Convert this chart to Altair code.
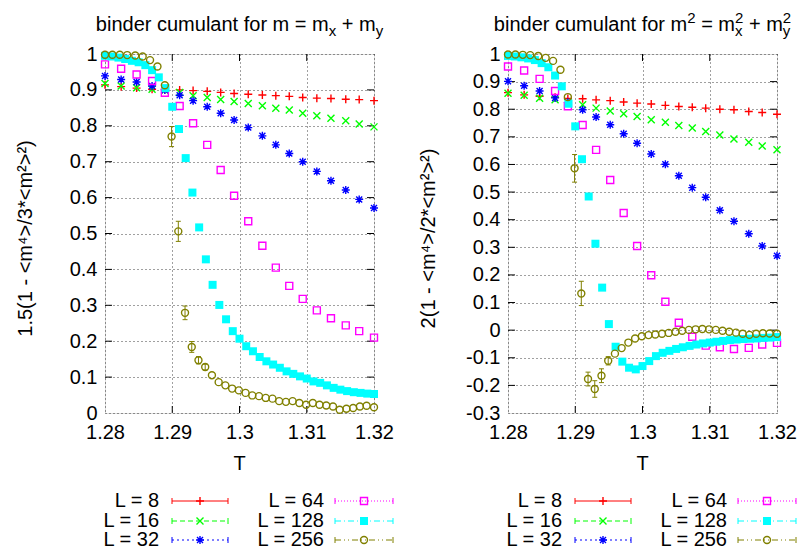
import altair as alt
import pandas as pd

# ---------------- data ----------------
T_COARSE = [1.2800, 1.2824, 1.2847, 1.2870, 1.2889, 1.2911, 1.2931, 1.2952, 1.2972, 1.2992,
            1.3013, 1.3034, 1.3054, 1.3074, 1.3094, 1.3115, 1.3136, 1.3158, 1.3178, 1.3200]
T_128 = [1.280, 1.281, 1.282, 1.283, 1.284, 1.285, 1.286, 1.287, 1.288, 1.289,
         1.290, 1.291, 1.292, 1.293, 1.294, 1.295, 1.296, 1.297, 1.298, 1.299,
         1.300, 1.301, 1.302, 1.303, 1.304, 1.305, 1.306, 1.307, 1.308, 1.309,
         1.310, 1.311, 1.312, 1.313, 1.314, 1.315, 1.316, 1.317, 1.318, 1.319, 1.320]
T_256 = [1.2800, 1.2811, 1.2822, 1.2833, 1.2845, 1.2856, 1.2867, 1.2878, 1.2889, 1.2899,
         1.2909, 1.2919, 1.2929, 1.2939, 1.2949, 1.2959, 1.2969, 1.2979, 1.2989, 1.2999,
         1.3009, 1.3019, 1.3029, 1.3039, 1.3049, 1.3059, 1.3069, 1.3079, 1.3089, 1.3099,
         1.3109, 1.3119, 1.3129, 1.3139, 1.3149, 1.3159, 1.3169, 1.3179, 1.3189, 1.3200]

LEFT_L8 = [0.914, 0.909, 0.905, 0.902, 0.901, 0.900, 0.898, 0.896, 0.893, 0.890,
           0.888, 0.886, 0.884, 0.882, 0.879, 0.877, 0.876, 0.874, 0.873, 0.870]
LEFT_L16 = [0.918, 0.911, 0.906, 0.902, 0.899, 0.893, 0.884, 0.879, 0.873, 0.868,
            0.862, 0.856, 0.849, 0.844, 0.835, 0.828, 0.821, 0.814, 0.805, 0.797]
LEFT_L32 = [0.939, 0.929, 0.922, 0.911, 0.900, 0.885, 0.870, 0.853, 0.835, 0.816,
            0.795, 0.772, 0.747, 0.723, 0.700, 0.673, 0.647, 0.621, 0.595, 0.571]
LEFT_L64 = [0.971, 0.959, 0.943, 0.925, 0.892, 0.855, 0.807, 0.747, 0.677, 0.605,
            0.534, 0.466, 0.405, 0.354, 0.318, 0.286, 0.264, 0.244, 0.228, 0.210]
LEFT_L128 = [0.995, 0.993, 0.990, 0.986, 0.981, 0.977, 0.969, 0.955, 0.935, 0.905,
             0.853, 0.791, 0.710, 0.614, 0.517, 0.428, 0.357, 0.301, 0.261, 0.228,
             0.207, 0.186, 0.172, 0.156, 0.144, 0.135, 0.126, 0.116, 0.109, 0.102,
             0.096, 0.088, 0.084, 0.077, 0.070, 0.065, 0.061, 0.058, 0.056, 0.054, 0.053]
LEFT_L256 = [0.998, 0.998, 0.998, 0.997, 0.996, 0.993, 0.983, 0.965, 0.913, 0.770,
             0.506, 0.279, 0.184, 0.147, 0.128, 0.105, 0.086, 0.077, 0.068, 0.063,
             0.056, 0.049, 0.047, 0.042, 0.040, 0.033, 0.031, 0.033, 0.028, 0.023,
             0.028, 0.023, 0.021, 0.018, 0.009, 0.012, 0.014, 0.018, 0.020, 0.016]
LEFT_ERR256 = [0, 0, 0, 0, 0, 0, 0, 0, 0, 0.028,
               0.028, 0.019, 0.015, 0.010, 0.008, 0, 0, 0, 0, 0,
               0, 0, 0, 0, 0, 0, 0, 0, 0, 0,
               0, 0, 0, 0, 0, 0, 0, 0, 0, 0]

RIGHT_L8 = [0.860, 0.852, 0.847, 0.843, 0.839, 0.838, 0.834, 0.831, 0.826, 0.822,
            0.819, 0.814, 0.810, 0.807, 0.804, 0.800, 0.798, 0.792, 0.788, 0.782]
RIGHT_L16 = [0.858, 0.851, 0.840, 0.834, 0.824, 0.816, 0.804, 0.794, 0.784, 0.774,
             0.762, 0.753, 0.741, 0.732, 0.719, 0.707, 0.692, 0.680, 0.667, 0.653]
RIGHT_L32 = [0.901, 0.885, 0.866, 0.841, 0.825, 0.798, 0.772, 0.744, 0.711, 0.677,
             0.638, 0.601, 0.559, 0.516, 0.481, 0.434, 0.394, 0.349, 0.305, 0.269]
RIGHT_L64 = [0.955, 0.940, 0.910, 0.866, 0.811, 0.743, 0.653, 0.544, 0.424, 0.305,
             0.199, 0.103, 0.027, -0.024, -0.056, -0.062, -0.068, -0.064, -0.052, -0.046]
RIGHT_L128 = [0.993, 0.991, 0.988, 0.984, 0.978, 0.967, 0.952, 0.922, 0.883, 0.820,
              0.738, 0.619, 0.484, 0.313, 0.154, 0.022, -0.060, -0.114, -0.136, -0.142,
              -0.130, -0.112, -0.094, -0.082, -0.075, -0.068, -0.062, -0.057, -0.052, -0.048,
              -0.045, -0.042, -0.039, -0.036, -0.034, -0.032, -0.031, -0.030, -0.028, -0.027, -0.025]
RIGHT_L256 = [0.998, 0.998, 0.997, 0.996, 0.993, 0.986, 0.975, 0.943, 0.844, 0.586,
              0.133, -0.177, -0.213, -0.165, -0.111, -0.085, -0.065, -0.045, -0.030, -0.022,
              -0.018, -0.016, -0.013, -0.010, -0.006, -0.002, 0.001, 0.003, 0.004, 0.003,
              0.001, -0.002, -0.006, -0.009, -0.013, -0.017, -0.013, -0.011, -0.012, -0.013]
RIGHT_ERR256 = [0, 0, 0, 0, 0, 0, 0, 0, 0, 0.050,
                0.044, 0.025, 0.030, 0.025, 0.015, 0, 0, 0, 0, 0,
                0, 0, 0, 0, 0, 0, 0, 0, 0, 0,
                0, 0, 0, 0, 0, 0, 0, 0, 0, 0]

X_TICKS = [1.28, 1.29, 1.30, 1.31, 1.32]
LEFT_Y_TICKS = [0, 0.1, 0.2, 0.3, 0.4, 0.5, 0.6, 0.7, 0.8, 0.9, 1]
RIGHT_Y_TICKS = [-0.3, -0.2, -0.1, 0, 0.1, 0.2, 0.3, 0.4, 0.5, 0.6, 0.7, 0.8, 0.9, 1]
LEGEND_LABELS = ["L = 8", "L = 16", "L = 32", "L = 64", "L = 128", "L = 256"]

LEFT_YTITLE = "1.5(1 - <m\u2074>/3*<m\u00b2>\u00b2)"
RIGHT_YTITLE = "2(1 - <m\u2074>/2*<m\u00b2>\u00b2)"
X_TITLE = "T"

# ---------------- styling ----------------
W, H = 269, 359
FONT = "Liberation Sans"
FS = 20
SUBFS = 15

STYLES = [
    dict(color="#ff0000", shape="M-1,0L1,0M0,-1L0,1", filled=False, size=64, dash=None),
    dict(color="#00ff00", shape="M-1,-1L1,1M-1,1L1,-1", filled=False, size=49, dash=[5, 3]),
    dict(color="#0000ff", shape="M-1,0L1,0M0,-1L0,1M-0.75,-0.75L0.75,0.75M-0.75,0.75L0.75,-0.75",
         filled=False, size=64, dash=[2, 3]),
    dict(color="#ff00ff", shape="square", filled=False, size=49, dash=[1, 2]),
    dict(color="#00ffff", shape="square", filled=True, size=64, dash=[6, 3, 1, 3]),
    dict(color="#808000", shape="circle", filled=False, size=49, dash=[6, 3, 1, 3, 1, 3]),
]

ARIAL = {'b': .556, 'i': .222, 'n': .556, 'd': .556, 'e': .556, 'r': .333, ' ': .278,
         'c': .5, 'u': .556, 'm': .833, 'l': .222, 'a': .556, 't': .278, 'f': .278,
         'o': .556, '=': .584, '+': .584, 'x': .5, 'y': .5, '2': .556}


def text_w(s, fs):
    return sum(ARIAL.get(ch, .556) for ch in s) * fs


LBL = "replace(format(datum.value, '~g'), '\u2212', '-')"
ONE = pd.DataFrame({"a": [0]})


def point_mark(st, **kw):
    args = dict(shape=st["shape"], filled=st["filled"], size=st["size"], color=st["color"],
                opacity=1, strokeWidth=1.4)
    args.update(kw)
    return args


def panel(series, ydom, yticks, ytitle, title_runs, err):
    xaxis = alt.Axis(values=X_TICKS, labelExpr=LBL, grid=True, gridDash=[1, 3], gridColor="#000000",
                     gridOpacity=0.75, gridWidth=1, ticks=False, tickSize=0, domain=False,
                     labelFontSize=FS, labelFont=FONT, labelColor="black", labelPadding=9,
                     labelFlush=False, labelOverlap=False, title=None)
    yaxis = alt.Axis(values=yticks, labelExpr=LBL, grid=True, gridDash=[1, 3], gridColor="#000000",
                     gridOpacity=0.75, gridWidth=1, ticks=False, tickSize=0, domain=False,
                     labelFontSize=FS, labelFont=FONT, labelColor="black", labelPadding=8,
                     labelFlush=False, labelOverlap=False, title=None)
    xs = alt.Scale(domain=[1.28, 1.32], nice=False, zero=False)
    ys = alt.Scale(domain=ydom, nice=False, zero=False)

    def X(f):
        return alt.X(f, type="quantitative", scale=xs, axis=xaxis)

    def Y(f):
        return alt.Y(f, type="quantitative", scale=ys, axis=yaxis)

    layers = []
    # layout anchor (invisible) fixing the plot's offset in the page
    layers.append(alt.Chart(ONE).mark_rule(opacity=0).encode(
        x=alt.value(-104), x2=alt.value(-104), y=alt.value(-53), y2=alt.value(-53)))

    # inward ticks on all four sides
    xt = pd.DataFrame({"T": X_TICKS[1:-1]})
    yt = pd.DataFrame({"v": yticks[1:-1]})
    layers.append(alt.Chart(xt).mark_rule(color="black").encode(x=X("T"), y=alt.value(H), y2=alt.value(H - 7)))
    layers.append(alt.Chart(xt).mark_rule(color="black").encode(x=X("T"), y=alt.value(0), y2=alt.value(7)))
    layers.append(alt.Chart(yt).mark_rule(color="black").encode(y=Y("v"), x=alt.value(0), x2=alt.value(7)))
    layers.append(alt.Chart(yt).mark_rule(color="black").encode(y=Y("v"), x=alt.value(W - 7), x2=alt.value(W)))

    # data series
    for (T, v), st in zip(series, STYLES):
        df = pd.DataFrame({"T": T, "v": v})
        layers.append(alt.Chart(df).mark_point(**point_mark(st)).encode(x=X("T"), y=Y("v")))

    # error bars of L = 256
    T256, v256 = series[5]
    edf = pd.DataFrame({"T": T256, "v": v256, "e": err})
    edf = edf[edf["e"] > 0].copy()
    edf["lo"] = edf["v"] - edf["e"]
    edf["hi"] = edf["v"] + edf["e"]
    olive = STYLES[5]["color"]
    layers.append(alt.Chart(edf).mark_rule(color=olive, strokeWidth=1).encode(
        x=X("T"), y=Y("lo"), y2="hi"))
    for col in ["lo", "hi"]:
        layers.append(alt.Chart(edf).mark_point(shape="M-1,0L1,0", filled=False, size=25, color=olive,
                                                opacity=1, strokeWidth=1).encode(x=X("T"), y=Y(col)))

    # title made of runs (with sub/superscripts); leading spaces become x offsets
    widths = [max(text_w(t, fs) for t, fs, dy in run) for run in title_runs]
    total = sum(widths)
    xpos = W / 2 - total / 2
    base = -23.5
    for run, wd in zip(title_runs, widths):
        for t, fs, dy in run:
            stripped = t.lstrip(" ")
            lead = text_w(t[: len(t) - len(stripped)], fs)
            layers.append(alt.Chart(ONE).mark_text(text=stripped, font=FONT, fontSize=fs, align="left",
                                                   baseline="alphabetic", color="black").encode(
                x=alt.value(xpos + lead), y=alt.value(base + dy)))
        xpos += wd

    # y-axis title and x-axis title
    layers.append(alt.Chart(ONE).mark_text(text=ytitle, font=FONT, fontSize=FS, angle=270, align="center",
                                           baseline="middle", color="black").encode(
        x=alt.value(-79), y=alt.value(H / 2 + 5)))
    layers.append(alt.Chart(ONE).mark_text(text=X_TITLE, font=FONT, fontSize=FS, align="center",
                                           baseline="middle", color="black").encode(
        x=alt.value(W / 2), y=alt.value(H + 51)))

    # legend (two columns of three)
    text_right = [54, 219]
    line_x0 = [67, 230]
    line_x1 = [123, 288]
    row_y = [447, 467, 486]
    for i, (lab, st) in enumerate(zip(LEGEND_LABELS, STYLES)):
        c, r = i // 3, i % 3
        y = row_y[r]
        layers.append(alt.Chart(ONE).mark_text(text=lab, font=FONT, fontSize=FS, align="right",
                                               baseline="middle", color="black").encode(
            x=alt.value(text_right[c]), y=alt.value(y)))
        rule_kw = dict(color=st["color"], strokeWidth=1)
        if st["dash"]:
            rule_kw["strokeDash"] = st["dash"]
        layers.append(alt.Chart(ONE).mark_rule(**rule_kw).encode(
            x=alt.value(line_x0[c]), x2=alt.value(line_x1[c]), y=alt.value(y)))
        for xx in (line_x0[c], line_x1[c]):
            layers.append(alt.Chart(ONE).mark_rule(color=st["color"], strokeWidth=1).encode(
                x=alt.value(xx), y=alt.value(y - 3), y2=alt.value(y + 3)))
        layers.append(alt.Chart(ONE).mark_point(**point_mark(st)).encode(
            x=alt.value((line_x0[c] + line_x1[c]) / 2), y=alt.value(y)))

    return alt.layer(*layers).properties(width=W, height=H)


left_series = [(T_COARSE, LEFT_L8), (T_COARSE, LEFT_L16), (T_COARSE, LEFT_L32),
               (T_COARSE, LEFT_L64), (T_128, LEFT_L128), (T_256, LEFT_L256)]
right_series = [(T_COARSE, RIGHT_L8), (T_COARSE, RIGHT_L16), (T_COARSE, RIGHT_L32),
                (T_COARSE, RIGHT_L64), (T_128, RIGHT_L128), (T_256, RIGHT_L256)]

left_title = [
    [("binder cumulant for m = m", FS, 0)],
    [("x", SUBFS, 5)],
    [(" + m", FS, 0)],
    [("y", SUBFS, 5)],
]
right_title = [
    [("binder cumulant for m", FS, 0)],
    [("2", SUBFS, -8)],
    [(" = m", FS, 0)],
    [("x", SUBFS, 5), ("2", SUBFS, -8)],
    [(" + m", FS, 0)],
    [("y", SUBFS, 5), ("2", SUBFS, -8)],
]

left = panel(left_series, [0, 1], LEFT_Y_TICKS, LEFT_YTITLE, left_title, LEFT_ERR256)
right = panel(right_series, [-0.3, 1], RIGHT_Y_TICKS, RIGHT_YTITLE, right_title, RIGHT_ERR256)

chart = alt.hconcat(left, right, spacing=134, bounds="flush", padding=0).configure_view(
    stroke="black", strokeWidth=1).configure(font=FONT)

chart.save("out.html", embed_options={"renderer": "svg", "actions": False})
